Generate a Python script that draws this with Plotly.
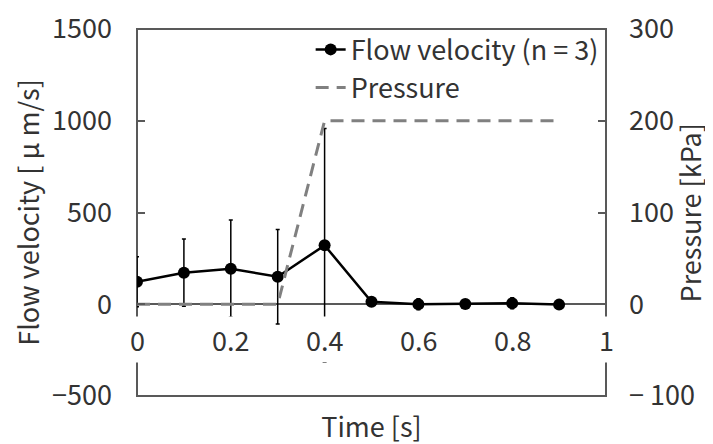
import plotly.graph_objects as go

# data
time_s = [0, 0.1, 0.2, 0.3, 0.4, 0.5, 0.6, 0.7, 0.8, 0.9]
flow_velocity = [123, 172, 194, 150, 321, 14, 0, 1, 5, -2]
flow_sd = [136, 183, 265, 257, 637, 10, 30, 15, 30, 10]
pressure_kpa = [0, 0, 0, 0, 200, 200, 200, 200, 200, 200]

x_ticks = [0, 0.2, 0.4, 0.6, 0.8, 1]
x_ticklabels = ["0", "0.2", "0.4", "0.6", "0.8", "1"]
y_ticks = [-500, 0, 500, 1000, 1500]
y_ticklabels = ["\u2212500", "0", "500", "1000", "1500"]
y2_ticks = [-100, 0, 100, 200, 300]
y2_ticklabels = ["\u2212 100", "0", "100", "200", "300"]

FONT = "Noto Sans CJK JP, Noto Sans, sans-serif"
TXT = "#333333"
FRAME = "#595959"
FS_TICK = 27
FS = 27

fig = go.Figure()

fig.add_trace(go.Scatter(
    x=time_s, y=flow_velocity, name="Flow velocity (n = 3)",
    mode="lines+markers",
    line=dict(color="black", width=2.5),
    marker=dict(color="black", size=12),
    error_y=dict(type="data", array=flow_sd, visible=True,
                 color="black", thickness=1.5, width=2),
))

fig.add_trace(go.Scatter(
    x=time_s, y=pressure_kpa, name="Pressure", yaxis="y2",
    mode="lines",
    line=dict(color="#808080", width=3, dash="13px,8px"),
))

# frame around the plot area
fig.add_shape(type="rect", xref="x domain", yref="y domain",
              x0=0, x1=1, y0=0, y1=1, layer="below",
              line=dict(color=FRAME, width=2))

# x tick labels sit at y = 0 with a white box, like the original
for v, t in zip(x_ticks, x_ticklabels):
    fig.add_annotation(x=v, y=0, xref="x", yref="y", text=t,
                       showarrow=False, yshift=-35, yanchor="middle",
                       bgcolor="white", borderpad=3,
                       font=dict(family=FONT, size=FS_TICK, color=TXT))

# right axis title (placed by hand, plotly puts it too far out)
fig.add_annotation(x=1.179, y=0.5, xref="paper", yref="paper",
                   text="Pressure [kPa]", textangle=-90, showarrow=False,
                   xanchor="center", yanchor="middle",
                   font=dict(family=FONT, size=FS, color=TXT))

# page body has an 8px margin, so the margins are shifted by 8px
fig.update_layout(
    width=713, height=444,
    margin=dict(l=129, r=115, t=21, b=56),
    paper_bgcolor="white", plot_bgcolor="white",
    font=dict(family=FONT, size=FS, color=TXT),
    showlegend=True,
    legend=dict(x=0.995, xanchor="right", y=1.01, yanchor="top",
                bgcolor="rgba(0,0,0,0)", font=dict(size=FS),
                itemwidth=30, tracegroupgap=0),
    xaxis=dict(range=[0, 1], showgrid=False, zeroline=False,
               showline=False, showticklabels=False, ticks="",
               title=dict(text="Time [s]", standoff=22,
                          font=dict(size=FS)),
               automargin=False),
    yaxis=dict(range=[-500, 1500], tickvals=y_ticks, ticktext=y_ticklabels,
               tickfont=dict(size=FS_TICK), ticklabeloverflow="allow",
               showgrid=False, zeroline=True, zerolinecolor=FRAME,
               zerolinewidth=2, showline=False,
               ticks="inside", ticklen=8, tickwidth=2, tickcolor=FRAME,
               ticklabelstandoff=24,
               title=dict(text="Flow velocity [ \u03bc m/s]", standoff=4,
                          font=dict(size=FS)),
               automargin=False),
    yaxis2=dict(range=[-100, 300], tickvals=y2_ticks, ticktext=y2_ticklabels,
                tickfont=dict(size=FS_TICK), ticklabeloverflow="allow",
                overlaying="y", side="right", showgrid=False,
                zeroline=False, showline=False,
                ticks="inside", ticklen=8, tickwidth=2, tickcolor=FRAME,
                ticklabelstandoff=22,
                automargin=False),
)

fig.write_html("out.html")
